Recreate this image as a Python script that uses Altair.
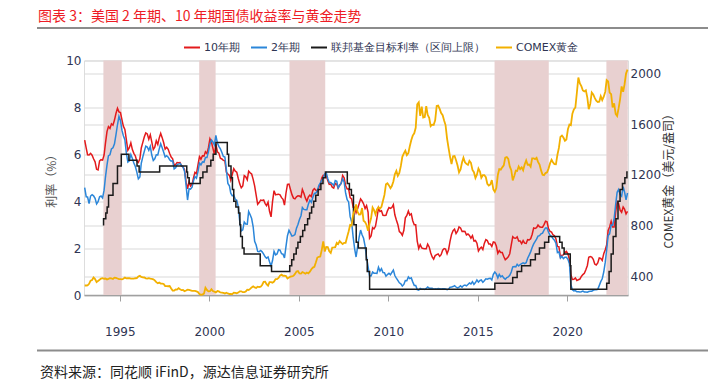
import altair as alt
import pandas as pd

# ---------------- data (monthly) ----------------
y10 = [
    6.60, 6.26, 5.98, 5.97, 6.04, 5.96, 5.81, 5.68, 5.36, 5.33, 5.72, 5.77,
    5.75, 5.97, 6.48, 6.97, 7.18, 7.10, 7.30, 7.24, 7.46, 7.74, 7.96, 7.81,
    7.78, 7.47, 7.20, 7.06, 6.63, 6.17, 6.28, 6.49, 6.20, 6.04, 5.93, 5.71,
    5.65, 5.81, 6.27, 6.51, 6.74, 6.91, 6.87, 6.64, 6.83, 6.53, 6.20, 6.30,
    6.58, 6.42, 6.69, 6.89, 6.71, 6.49, 6.22, 6.30, 6.21, 6.03, 5.88, 5.81,
    5.54, 5.57, 5.65, 5.64, 5.65, 5.50, 5.46, 5.34, 4.81, 4.53, 4.83, 4.65,
    4.72, 5.00, 5.23, 5.18, 5.54, 5.90, 5.79, 5.94, 5.92, 6.11, 6.03, 6.28,
    6.66, 6.52, 6.26, 5.99, 6.44, 6.10, 6.05, 5.83, 5.80, 5.74, 5.72, 5.24,
    5.16, 5.10, 4.89, 5.14, 5.39, 5.28, 5.24, 4.97, 4.73, 4.57, 4.65, 5.09,
    5.04, 4.91, 5.28, 5.21, 5.16, 4.93, 4.65, 4.26, 3.87, 3.94, 4.05, 4.03,
    4.05, 3.90, 3.81, 3.96, 3.57, 3.33, 3.98, 4.45, 4.27, 4.29, 4.30, 4.27,
    4.15, 4.08, 3.83, 4.35, 4.72, 4.73, 4.50, 4.28, 4.13, 4.10, 4.19, 4.23,
    4.22, 4.17, 4.50, 4.34, 4.14, 4.00, 4.18, 4.26, 4.20, 4.46, 4.54, 4.47,
    4.42, 4.57, 4.72, 4.99, 5.11, 5.11, 5.09, 4.88, 4.72, 4.73, 4.60, 4.56,
    4.76, 4.72, 4.56, 4.69, 4.75, 5.10, 5.00, 4.67, 4.52, 4.53, 4.15, 4.10,
    3.74, 3.74, 3.51, 3.68, 3.88, 4.10, 4.01, 3.89, 3.69, 3.81, 3.53, 2.42,
    2.52, 2.87, 2.82, 2.93, 3.29, 3.72, 3.56, 3.59, 3.40, 3.39, 3.40, 3.59,
    3.73, 3.69, 3.73, 3.85, 3.42, 3.20, 3.01, 2.70, 2.65, 2.54, 2.76, 3.29,
    3.39, 3.58, 3.41, 3.46, 3.17, 3.00, 3.00, 2.30, 1.98, 2.15, 2.01, 1.98,
    1.97, 1.97, 2.17, 2.05, 1.80, 1.62, 1.53, 1.68, 1.72, 1.75, 1.65, 1.72,
    1.91, 1.98, 1.96, 1.76, 1.93, 2.30, 2.58, 2.74, 2.81, 2.62, 2.72, 2.90,
    2.86, 2.71, 2.72, 2.71, 2.56, 2.60, 2.54, 2.42, 2.53, 2.30, 2.33, 2.21,
    1.88, 1.98, 2.04, 1.94, 2.20, 2.36, 2.32, 2.17, 2.17, 2.07, 2.26, 2.24,
    2.09, 1.78, 1.89, 1.81, 1.81, 1.64, 1.50, 1.56, 1.63, 1.76, 2.14, 2.49,
    2.43, 2.42, 2.48, 2.30, 2.30, 2.19, 2.32, 2.21, 2.20, 2.36, 2.35, 2.40,
    2.58, 2.86, 2.84, 2.87, 2.98, 2.91, 2.89, 2.89, 3.00, 3.15, 3.12, 2.83,
    2.71, 2.68, 2.57, 2.53, 2.40, 2.07, 2.06, 1.63, 1.70, 1.71, 1.81, 1.86,
    1.76, 1.50, 0.87, 0.66, 0.67, 0.73, 0.62, 0.65, 0.68, 0.79, 0.87, 0.93,
    1.08, 1.26, 1.61, 1.64, 1.62, 1.52, 1.32, 1.28, 1.37, 1.58, 1.56, 1.47,
    1.76, 1.93, 2.13, 2.75, 2.90, 3.14, 2.90, 2.90, 3.52, 3.98, 3.89, 3.62,
    3.53, 3.75, 3.66, 3.46, 3.57,
]

y2 = [
    4.58, 4.19, 4.18, 3.90, 4.22, 4.28, 4.23, 4.12, 3.88, 3.98, 4.19, 4.22,
    4.14, 4.47, 5.03, 5.54, 5.94, 5.98, 6.23, 6.28, 6.45, 6.83, 7.26, 7.62,
    7.44, 7.02, 6.79, 6.62, 6.06, 5.67, 5.72, 5.99, 5.82, 5.63, 5.48, 5.24,
    4.95, 5.03, 5.62, 5.89, 6.12, 6.35, 6.31, 6.17, 6.34, 5.97, 5.74, 5.81,
    5.98, 5.97, 6.22, 6.45, 6.28, 6.09, 5.89, 5.94, 5.88, 5.77, 5.71, 5.72,
    5.38, 5.43, 5.57, 5.58, 5.61, 5.52, 5.46, 5.27, 4.67, 4.05, 4.53, 4.51,
    4.60, 4.88, 5.05, 4.98, 5.25, 5.62, 5.55, 5.68, 5.66, 5.86, 5.86, 6.10,
    6.44, 6.61, 6.53, 6.40, 6.81, 6.48, 6.34, 6.23, 6.08, 5.91, 5.88, 5.35,
    4.76, 4.66, 4.34, 4.23, 4.26, 4.08, 4.04, 3.76, 3.12, 2.73, 2.78, 3.11,
    3.03, 3.02, 3.56, 3.42, 3.26, 2.91, 2.29, 2.13, 1.86, 1.85, 1.90, 1.84,
    1.74, 1.63, 1.57, 1.62, 1.42, 1.23, 1.47, 1.86, 1.71, 1.75, 1.93, 1.91,
    1.76, 1.74, 1.58, 2.07, 2.53, 2.76, 2.64, 2.51, 2.53, 2.58, 2.85, 3.01,
    3.22, 3.38, 3.73, 3.65, 3.64, 3.64, 3.87, 4.04, 3.95, 4.17, 4.33, 4.35,
    4.45, 4.68, 4.77, 4.90, 4.97, 5.16, 5.22, 4.97, 4.80, 4.80, 4.74, 4.67,
    4.88, 4.85, 4.57, 4.67, 4.77, 4.96, 4.82, 4.34, 4.06, 3.97, 3.34, 3.12,
    2.48, 1.97, 1.62, 2.05, 2.45, 2.77, 2.57, 2.42, 2.08, 1.61, 1.21, 0.82,
    0.81, 0.98, 0.93, 0.93, 0.92, 1.18, 1.02, 1.12, 0.96, 0.95, 0.80, 0.87,
    0.93, 0.86, 0.96, 1.06, 0.83, 0.72, 0.62, 0.52, 0.48, 0.38, 0.45, 0.62,
    0.61, 0.77, 0.70, 0.73, 0.56, 0.41, 0.41, 0.23, 0.21, 0.28, 0.25, 0.26,
    0.24, 0.28, 0.34, 0.29, 0.29, 0.29, 0.25, 0.27, 0.26, 0.28, 0.27, 0.26,
    0.27, 0.27, 0.26, 0.23, 0.25, 0.33, 0.34, 0.36, 0.40, 0.34, 0.30, 0.34,
    0.39, 0.33, 0.40, 0.42, 0.39, 0.45, 0.51, 0.47, 0.57, 0.45, 0.53, 0.64,
    0.55, 0.62, 0.64, 0.54, 0.61, 0.69, 0.67, 0.70, 0.71, 0.64, 0.88, 0.98,
    0.90, 0.73, 0.88, 0.77, 0.82, 0.73, 0.67, 0.74, 0.77, 0.84, 0.98, 1.20,
    1.21, 1.20, 1.31, 1.24, 1.30, 1.34, 1.37, 1.34, 1.38, 1.57, 1.70, 1.84,
    2.03, 2.18, 2.28, 2.38, 2.51, 2.53, 2.61, 2.64, 2.77, 2.86, 2.86, 2.68,
    2.54, 2.50, 2.41, 2.34, 2.21, 1.81, 1.84, 1.57, 1.65, 1.55, 1.61, 1.61,
    1.52, 1.33, 0.45, 0.22, 0.17, 0.19, 0.14, 0.14, 0.13, 0.14, 0.17, 0.13,
    0.13, 0.12, 0.15, 0.16, 0.16, 0.20, 0.22, 0.22, 0.24, 0.40, 0.57, 0.69,
    0.98, 1.40, 1.91, 2.54, 2.61, 2.99, 2.97, 3.25, 3.86, 4.38, 4.50, 4.29,
    4.21, 4.62, 4.40, 4.06, 4.35,
]

gold = [
    329, 329, 330, 342, 367, 372, 392, 379, 355, 365, 374, 383,
    387, 382, 384, 377, 381, 386, 385, 380, 391, 389, 384, 379,
    379, 377, 382, 391, 385, 387, 386, 383, 383, 383, 386, 387,
    400, 405, 396, 393, 392, 385, 383, 387, 383, 381, 378, 369,
    355, 347, 352, 344, 344, 341, 324, 324, 323, 325, 306, 289,
    289, 297, 296, 308, 299, 292, 293, 284, 289, 296, 294, 291,
    287, 287, 286, 282, 277, 262, 256, 257, 265, 311, 293, 283,
    284, 300, 286, 280, 275, 285, 282, 274, 273, 270, 266, 272,
    266, 262, 263, 261, 272, 270, 268, 273, 283, 283, 276, 276,
    282, 296, 294, 302, 314, 322, 314, 310, 320, 317, 319, 333,
    357, 359, 340, 328, 355, 356, 351, 360, 379, 379, 389, 407,
    414, 405, 406, 404, 384, 392, 398, 400, 406, 420, 439, 442,
    424, 423, 434, 429, 422, 431, 424, 438, 457, 470, 476, 510,
    549, 555, 557, 610, 676, 596, 633, 632, 598, 585, 628, 629,
    631, 665, 655, 679, 667, 655, 665, 665, 712, 754, 806, 803,
    889, 922, 968, 909, 888, 889, 939, 839, 829, 806, 760, 816,
    858, 943, 924, 890, 928, 946, 934, 949, 996, 1043, 1127, 1135,
    1118, 1095, 1113, 1149, 1205, 1232, 1193, 1215, 1271, 1343, 1370, 1391,
    1356, 1372, 1424, 1474, 1510, 1528, 1572, 1756, 1772, 1665, 1739, 1652,
    1656, 1742, 1674, 1650, 1585, 1596, 1594, 1630, 1744, 1747, 1721, 1688,
    1671, 1627, 1593, 1487, 1414, 1343, 1286, 1347, 1349, 1316, 1275, 1221,
    1244, 1300, 1336, 1299, 1287, 1279, 1311, 1296, 1239, 1222, 1176, 1202,
    1251, 1227, 1178, 1198, 1199, 1182, 1131, 1117, 1125, 1159, 1086, 1068,
    1097, 1200, 1246, 1242, 1260, 1276, 1337, 1341, 1326, 1267, 1238, 1157,
    1192, 1234, 1231, 1267, 1246, 1260, 1237, 1283, 1314, 1280, 1282, 1265,
    1331, 1331, 1325, 1335, 1303, 1282, 1238, 1202, 1198, 1215, 1220, 1250,
    1291, 1320, 1300, 1286, 1284, 1359, 1413, 1500, 1510, 1495, 1470, 1480,
    1560, 1597, 1592, 1683, 1716, 1732, 1846, 1968, 1921, 1900, 1866, 1858,
    1867, 1808, 1718, 1760, 1850, 1834, 1807, 1785, 1775, 1777, 1821, 1790,
    1817, 1856, 1948, 1937, 1849, 1837, 1733, 1765, 1681, 1665, 1726, 1798,
    1898, 1855, 1913, 1999, 2030,
]

fed_dates = [
    "1994-01-20", "1994-02-04", "1994-03-22", "1994-04-18", "1994-05-17", "1994-08-16",
    "1994-11-15", "1995-02-01", "1995-07-06", "1995-12-19", "1996-01-31", "1997-03-25",
    "1998-09-29", "1998-10-15", "1998-11-17", "1999-06-30", "1999-08-24", "1999-11-16",
    "2000-02-02", "2000-03-21", "2000-05-16", "2001-01-03", "2001-01-31", "2001-03-20",
    "2001-04-18", "2001-05-15", "2001-06-27", "2001-08-21", "2001-09-17", "2001-10-02",
    "2001-11-06", "2001-12-11", "2002-11-06", "2003-06-25", "2004-06-30", "2004-08-10",
    "2004-09-21", "2004-11-10", "2004-12-14", "2005-02-02", "2005-03-22", "2005-05-03",
    "2005-06-30", "2005-08-09", "2005-09-20", "2005-11-01", "2005-12-13", "2006-01-31",
    "2006-03-28", "2006-05-10", "2006-06-29", "2007-09-18", "2007-10-31", "2007-12-11",
    "2008-01-22", "2008-01-30", "2008-03-18", "2008-04-30", "2008-10-08", "2008-10-29",
    "2008-12-16", "2015-12-16", "2016-12-14", "2017-03-15", "2017-06-14", "2017-12-13",
    "2018-03-21", "2018-06-13", "2018-09-26", "2018-12-19", "2019-07-31", "2019-09-18",
    "2019-10-30", "2020-03-03", "2020-03-15", "2022-03-16", "2022-05-04", "2022-06-15",
    "2022-07-27", "2022-09-21", "2022-11-02", "2022-12-14", "2023-02-01", "2023-03-22",
    "2023-05-03", "2023-05-20",
]
fed_vals = [
    3.00, 3.25, 3.50, 3.75, 4.25, 4.75,
    5.50, 6.00, 5.75, 5.50, 5.25, 5.50,
    5.25, 5.00, 4.75, 5.00, 5.25, 5.50,
    5.75, 6.00, 6.50, 6.00, 5.50, 5.00,
    4.50, 4.00, 3.75, 3.50, 3.00, 2.50,
    2.00, 1.75, 1.25, 1.00, 1.25, 1.50,
    1.75, 2.00, 2.25, 2.50, 2.75, 3.00,
    3.25, 3.50, 3.75, 4.00, 4.25, 4.50,
    4.75, 5.00, 5.25, 4.75, 4.50, 4.25,
    3.50, 3.00, 2.25, 2.00, 1.50, 1.00,
    0.25, 0.50, 0.75, 1.00, 1.25, 1.50,
    1.75, 2.00, 2.25, 2.50, 2.25, 2.00,
    1.75, 1.25, 0.25, 0.50, 1.00, 1.75,
    2.50, 3.25, 4.00, 4.50, 4.75, 5.00,
    5.25, 5.25,
]

shade_start = ["1994-02-01", "1999-06-10", "2004-06-25", "2015-12-10", "2022-03-10"]
shade_end = ["1995-02-10", "2000-05-10", "2006-06-25", "2018-12-20", "2023-05-20"]

names = ["10年期", "2年期", "联邦基金目标利率（区间上限）", "COMEX黄金"]
colors = ["#e31a1c", "#2b86d9", "#1a1a1a", "#f2b000"]

title_text = "图表 3：美国 2 年期、10 年期国债收益率与黄金走势"
source_text = "资料来源：同花顺 iFinD，源达信息证券研究所"

# ---------------- tables ----------------
n = len(y10)
months = [d + pd.Timedelta(days=14) for d in pd.date_range("1993-01-01", periods=n, freq="MS")]
dates_str = [d.strftime("%Y-%m-%d") for d in months]

rates_df = pd.DataFrame({
    "date": dates_str + dates_str[: len(y2)],
    "value": y10 + y2,
    "series": [names[0]] * n + [names[1]] * len(y2),
})
fed_df = pd.DataFrame({"date": fed_dates, "value": fed_vals, "series": names[2]})
gold_df = pd.DataFrame({"date": dates_str[: len(gold)], "gold": gold, "series": names[3]})
shade_df = pd.DataFrame({"start": shade_start, "end": shade_end})

LABEL_FONT = "DejaVu Sans"
CJK = "Noto Sans CJK SC"
NAVY = "#2f3553"

x_enc = alt.X(
    "date:T",
    scale=alt.Scale(domain=[alt.DateTime(year=1993, month=1, date=1),
                            alt.DateTime(year=2023, month=5, date=25)]),
    axis=alt.Axis(
        values=[alt.DateTime(year=y, month=1, date=1) for y in [1995, 2000, 2005, 2010, 2015, 2020]],
        format="%Y", title=None, grid=False,
        domainColor="#a0a0a0", domainWidth=1.5,
        tickColor="#a0a0a0", tickSize=6, tickWidth=1,
        labelPadding=25, labelFont=LABEL_FONT, labelFontSize=12, labelColor=NAVY,
    ),
)

legend = alt.Legend(
    orient="none", legendX=99, legendY=-22, direction="horizontal", title=None,
    symbolType="stroke", symbolSize=256, symbolStrokeWidth=2,
    labelFont=LABEL_FONT, labelFontSize=11, labelColor=NAVY, labelLimit=0,
    columnPadding=7, labelOffset=3, padding=0,
)
color_enc = alt.Color("series:N", scale=alt.Scale(domain=names, range=colors), legend=legend)

left_axis = alt.Axis(
    values=[0, 2, 4, 6, 8, 10], title="利率（%）", grid=True, gridColor="#d9d9d9",
    domain=False, ticks=False, labelPadding=3,
    labelFont=LABEL_FONT, labelFontSize=12, labelColor=NAVY,
    titleFont=CJK, titleFontSize=12, titleFontWeight="normal", titleColor="#555555",
    titlePadding=7,
)
y_left = alt.Y("value:Q", scale=alt.Scale(domain=[0, 10]), axis=left_axis)

shade = alt.Chart(shade_df).mark_rect(color="#e8d0d0").encode(
    x=alt.X("start:T"), x2="end:T"
)
rates = alt.Chart(rates_df).mark_line(strokeWidth=1.5).encode(
    x=x_enc, y=y_left, color=color_enc, detail="series:N"
)
fed = alt.Chart(fed_df).mark_line(strokeWidth=1.5, interpolate="step-after").encode(
    x=x_enc, y=y_left, color=color_enc
)

one = pd.DataFrame({"t": [title_text]})
title_mark = alt.Chart(one).mark_text(
    align="left", baseline="middle", font=CJK, fontSize=14, color="#ee1c25"
).encode(text="t:N", x=alt.value(-46), y=alt.value(-43.5))

src = pd.DataFrame({"t": [source_text]})
source_mark = alt.Chart(src).mark_text(
    align="left", baseline="middle", font=CJK, fontSize=14, color="#222222"
).encode(text="t:N", x=alt.value(-44), y=alt.value(312.5))

rule_df = pd.DataFrame({"k": [0]})
top_rule = alt.Chart(rule_df).mark_rule(color="#8c8c8c", strokeWidth=2).encode(
    x=alt.value(-47), x2=alt.value(627), y=alt.value(-32.5)
)
bottom_rule = alt.Chart(rule_df).mark_rule(color="#8c8c8c", strokeWidth=2).encode(
    x=alt.value(-47), x2=alt.value(627), y=alt.value(290)
)

left = alt.layer(shade, rates, fed, title_mark, source_mark, top_rule, bottom_rule)

gold_line = alt.Chart(gold_df).mark_line(strokeWidth=1.8).encode(
    x=x_enc,
    y=alt.Y(
        "gold:Q", scale=alt.Scale(domain=[254, 2102], nice=False, zero=False),
        axis=alt.Axis(
            orient="right", values=[400, 800, 1200, 1600, 2000], format="d",
            title="COMEX黄金（美元/盎司）", titleAngle=270, titleBaseline="top",
            grid=True, gridColor="#d9d9d9",
            domain=False, ticks=False, labelPadding=2,
            labelFont=LABEL_FONT, labelFontSize=12, labelColor=NAVY,
            titleFont=CJK, titleFontSize=12, titleFontWeight="normal", titleColor="#333333",
            titlePadding=3,
        ),
    ),
    color=color_enc,
)

chart = alt.layer(left, gold_line).resolve_scale(y="independent").properties(
    width=544, height=234.5,
    autosize=alt.AutoSizeParams(type="none"),
    padding={"left": 76, "top": 52.5, "right": 80, "bottom": 88},
).configure_view(strokeWidth=0).configure(background="white")

chart.save("out.html", embed_options={"renderer": "svg", "actions": False})
